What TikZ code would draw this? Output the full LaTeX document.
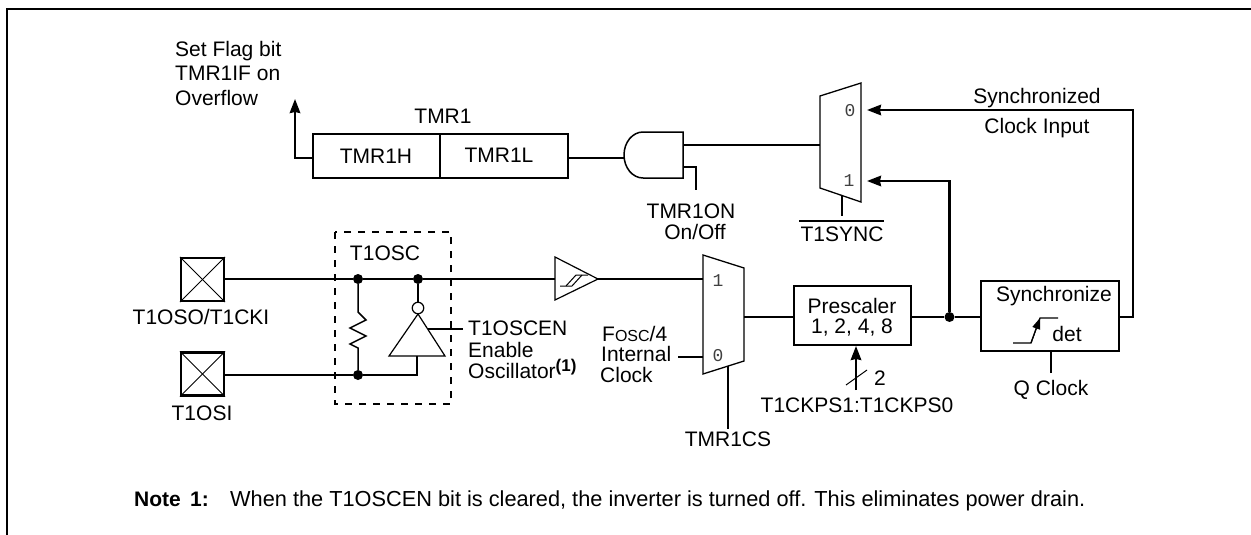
\documentclass[tikz,border=0pt]{standalone}
\usepackage{fontspec}
\setmainfont{Liberation Sans}
\newfontfamily\digitfont{Liberation Mono}
\usetikzlibrary{arrows.meta,calc}
\tikzset{
  wire/.style={line width=2.2pt,line cap=butt,line join=miter},
  thin wire/.style={line width=1pt,line join=miter},
  flow/.style={wire,-{Stealth[length=14pt,width=10.5pt,inset=1pt]}},
  lbl/.style={inner sep=0pt,anchor=base,font=\fontsize{21}{25}\selectfont},
  lbll/.style={inner sep=0pt,anchor=base west,font=\fontsize{21}{25}\selectfont},
  digit/.style={inner sep=0pt,text=black!75,font=\digitfont\fontsize{18}{20}\selectfont},
  regbox/.style={draw,wire,inner sep=0pt},
  pad/.style={draw,wire,inner sep=0pt,minimum width=43pt,minimum height=43pt},
  junction/.style={circle,fill=black,inner sep=0pt,minimum size=10pt},
}
\begin{document}
\begin{tikzpicture}[x=1pt,y=-1pt]
\useasboundingbox (0,0) rectangle (1251,535);
% frame
\coordinate (fa) at (7,535); \coordinate (fb) at (7,9); \coordinate (fc) at (1251,9);
\draw[line width=2.8pt,line join=miter] (fa) -- (fb) -- (fc);

% TMR1 register
\node[regbox,minimum width=127pt,minimum height=44pt] (th) at (376.5,156) {};
\node[regbox,minimum width=128pt,minimum height=44pt] (tl) at (504,156) {};
\node[lbl] (thx) at (376,163) {TMR1H};
\node[lbl] (tlx) at (499,162) {TMR1L};
\node[lbl] (tmr) at (443,124) {TMR1};
% flag
\node[lbll] (f1) at (175,57) {Set Flag bit};
\node[lbll] (f2) at (175,81) {TMR1IF on};
\node[lbll] (f3) at (175,106) {Overflow};
\coordinate (flag) at (295,99);
\coordinate (thw) at (th.west |- 0,158);
\draw[flow] (thw) -| (flag);

% AND gate
\coordinate (and1) at (643,132); \coordinate (and2) at (683,132);
\coordinate (and3) at (683,178); \coordinate (and4) at (643,178);
\coordinate (andw) at (624,158);
\draw[line width=1.5pt,line join=miter] (and4) -- (and3) -- (and2) -- (and1) arc[start angle=90,end angle=270,x radius=19pt,y radius=23pt];
\coordinate (tle) at (tl.east |- 0,158);
\draw[wire] (tle) -- (andw);
\coordinate (andi) at (683,167);
\coordinate (ond) at (696,190);
\draw[wire] (andi) -| (ond);
\node[lbl] (on1) at (691,218) {TMR1ON};
\node[lbl] (on2) at (695,239) {On/Off};

% Upper mux
\coordinate (m1a) at (820,96); \coordinate (m1b) at (861,83);
\coordinate (m1c) at (861,202); \coordinate (m1d) at (820,188);
\draw[thin wire,line width=1.3pt] (m1a) -- (m1b) -- (m1c) -- (m1d) -- cycle;
\node[digit] (m1z) at (850,111) {0};
\node[digit] (m1o) at (849,181) {1};
\coordinate (andout) at (683,145); \coordinate (m1in) at (820,145);
\draw[wire] (andout) -- (m1in);
\coordinate (m1s) at (842,195); \coordinate (m1t) at (842,216);
\draw[wire] (m1s) -- (m1t);
\node[lbl] (sync) at (842,241) {T1SYNC};
\coordinate (ov1) at (799,221); \coordinate (ov2) at (884,221);
\draw[line width=1.5pt] (ov1) -- (ov2);

% Pads
\node[pad] (p1) at (202.5,279.5) {};
\node[pad] (p2) at (202.5,374) {};
\foreach \p in {p1,p2}{
  \draw[line width=1pt] (\p.north west) -- (\p.south east);
  \draw[line width=1pt] (\p.north east) -- (\p.south west);
}
\node[lbl] (p1x) at (201,324) {T1OSO/T1CKI};
\node[lbl] (p2x) at (202,420) {T1OSI};

% T1OSC dashed box
\coordinate (d1) at (335,232); \coordinate (d2) at (451,404);
\draw[line width=1.6pt,dash pattern=on 7pt off 7pt] (d1) rectangle (d2);
\node[lbl] (osc) at (385,260) {T1OSC};

% Junctions and oscillator wires
\node[junction] (j1) at (358,279) {};
\node[junction] (j2) at (418,279) {};
\node[junction] (j3) at (358,375) {};
\coordinate (invb) at (417,356);
\coordinate (invc) at (417,375);
\coordinate (sw) at (555,279);
\draw[wire] (p1.east |- j1) -- (j1) -- (j2) -- (sw);
\draw[wire] (p2.east |- j3) -- (j3) -- (invc) -- (invb);

% Resistor
\coordinate (r0) at (358,312);
\coordinate (r1) at (366,320);
\coordinate (r2) at (350,328);
\coordinate (r3) at (366,336);
\coordinate (r4) at (350,344);
\coordinate (r5) at (358,348);
\draw[line width=1.5pt,line join=miter] (j1) -- (r0) -- (r1) -- (r2) -- (r3) -- (r4) -- (r5) -- (j3);

% Inverter
\coordinate (i1) at (418,314); \coordinate (i2) at (445,356); \coordinate (i3) at (389,356);
\draw[line width=1.2pt,line join=miter] (i1) -- (i2) -- (i3) -- cycle;
\node[circle,draw,line width=1.2pt,fill=white,inner sep=0pt,minimum size=11.5pt] (bub) at (418,308) {};
\draw[wire] (j2) -- (bub.north);
\coordinate (en1) at (428,329); \coordinate (en2) at (463,329);
\draw[line width=1.6pt] (en1) -- (en2);
\node[lbll] (e1) at (468,335) {T1OSCEN};
\node[lbll] (e2) at (468,357) {Enable};
\node[lbll] (e3) at (468,378) {Oscillator\raisebox{7pt}{\fontsize{17}{18}\selectfont\bfseries(1)}};

% Schmitt buffer
\coordinate (s1) at (555,257); \coordinate (s2) at (598,279); \coordinate (s3) at (555,300);
\draw[line width=1.2pt,line join=miter] (s1) -- (s2) -- (s3) -- cycle;
\coordinate (h1) at (560,286); \coordinate (h2) at (572,286); \coordinate (h3) at (582,275);
\coordinate (h4) at (566,286); \coordinate (h5) at (576,275); \coordinate (h6) at (588,275);
\draw[line width=1pt] (h1) -- (h2) -- (h3);
\draw[line width=1pt] (h4) -- (h5) -- (h6);

% Lower mux
\coordinate (m2a) at (703,255); \coordinate (m2b) at (744,268);
\coordinate (m2c) at (744,361); \coordinate (m2d) at (703,374);
\draw[thin wire,line width=1.3pt] (m2a) -- (m2b) -- (m2c) -- (m2d) -- cycle;
\node[digit] (m2o) at (718,281) {1};
\node[digit] (m2z) at (718,356) {0};
\coordinate (m2i1) at (703,279);
\draw[wire] (s2) -- (m2i1);
\coordinate (fi) at (678,357); \coordinate (m2i0) at (703,357);
\draw[wire] (fi) -- (m2i0);
\coordinate (m2s) at (728,366); \coordinate (m2t) at (728,429);
\draw[wire] (m2s) -- (m2t);
\node[lbl] (cs) at (728,446) {TMR1CS};
\node[lbll] (fo1) at (602,341) {F{\fontsize{16}{18}\selectfont OSC}/4};
\node[lbll] (fo2) at (601,361) {Internal};
\node[lbll] (fo3) at (600,382) {Clock};

% Prescaler
\node[regbox,minimum width=117pt,minimum height=59pt] (pre) at (852.5,315.5) {};
\node[lbl] (pr1) at (852,313) {Prescaler};
\node[lbl] (pr2) at (852,333) {1, 2, 4, 8};
\coordinate (m2o2) at (744,317);
\draw[wire] (m2o2) -- (pre.west |- m2o2);
\coordinate (ck) at (856,390);
\coordinate (ckt) at (856,346);
\draw[flow] (ck) -- (ckt);
\coordinate (sl1) at (846,385); \coordinate (sl2) at (867,370);
\draw[line width=1pt] (sl1) -- (sl2);
\node[lbl] (two) at (880,385) {2};
\node[lbl] (ckps) at (857,412) {T1CKPS1:T1CKPS0};

% Synchronize
\node[regbox,minimum width=138pt,minimum height=70pt] (sy) at (1050,316) {};
\node[lbl] (sy1) at (1054,301) {Synchronize};
\node[lbl] (sy2) at (1067,341) {det};
\node[junction] (j4) at (949.5,317) {};
\draw[wire] (pre.east |- j4) -- (j4) -- (sy.west |- j4);
\coordinate (e1p) at (1013,343); \coordinate (e2p) at (1031,343);
\coordinate (e3p) at (1040,318); \coordinate (e4p) at (1058,318);
\draw[line width=1.2pt] (e1p) -- (e2p) -- (e3p) -- (e4p);
\draw[line width=1.2pt,-{Stealth[length=11pt,width=8pt,inset=0pt]}] (e2p) -- (e3p);
\coordinate (qs) at (1051,373);
\draw[wire] (qs) -- (sy.south -| qs);
\node[lbl] (qc) at (1051,395) {Q Clock};

% Feedback
\coordinate (m10) at (867,110); \coordinate (m11) at (867,181);
\coordinate (fbr) at (1133,110); \coordinate (fbs) at (1133,317);
\draw[flow] (sy.east |- fbs) -- (fbs) -- (fbr) -- (m10);
\draw[flow] (j4) |- (m11);
\node[lbl] (sn1) at (1037,103) {Synchronized};
\node[lbl] (sn2) at (1037,133) {Clock Input};

% Note
\node[lbll] (n1) at (134,506) {\bfseries Note\, 1:};
\node[lbll,font=\fontsize{21.75}{25}\selectfont] (n2) at (230,506) {When the T1OSCEN bit is cleared, the inverter is turned off. This eliminates power drain.};
\end{tikzpicture}
\end{document}
